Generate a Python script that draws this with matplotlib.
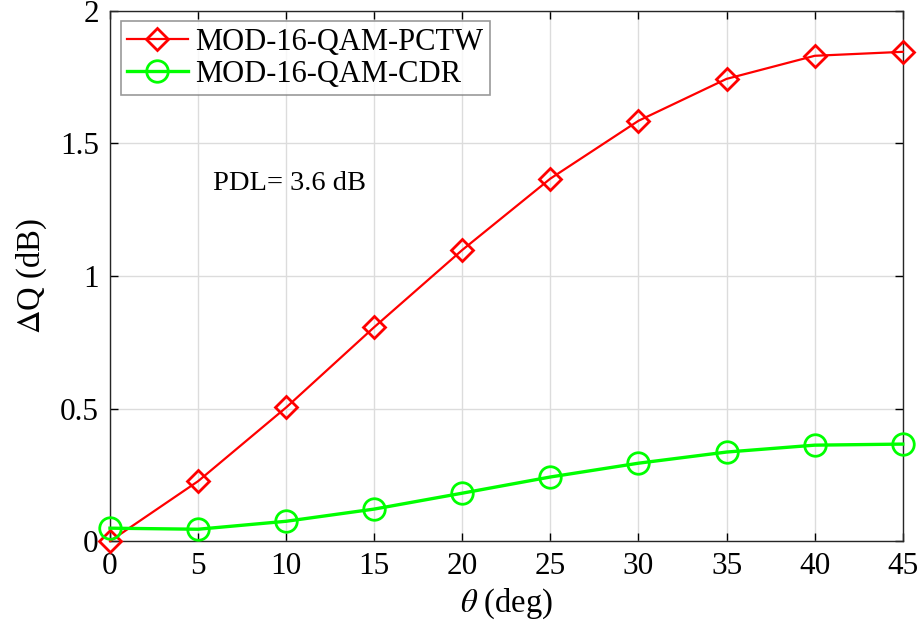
import matplotlib.pyplot as plt

plt.rcParams['font.family'] = ['Liberation Serif', 'DejaVu Serif']
plt.rcParams['mathtext.fontset'] = 'stix'

theta = [0, 5, 10, 15, 20, 25, 30, 35, 40, 45]
dq_pctw = [0.0, 0.226, 0.504, 0.807, 1.098, 1.367, 1.585, 1.743, 1.830, 1.845]
dq_cdr = [0.049, 0.045, 0.075, 0.121, 0.181, 0.242, 0.294, 0.336, 0.362, 0.366]

fig = plt.figure(figsize=(9.24, 6.3), dpi=100)
ax = fig.add_axes([0.119, 0.141, 0.858, 0.842])

ax.plot(theta, dq_pctw, color='#ff0000', lw=1.6, marker='D', ms=11.5,
        mfc='none', mew=2, label='MOD-16-QAM-PCTW', clip_on=False, zorder=3)
ax.plot(theta, dq_cdr, color='#00ff00', lw=2.4, marker='o', ms=15.5,
        mfc='none', mew=2, label='MOD-16-QAM-CDR', clip_on=False, zorder=3)

ax.set_xlim(0, 45)
ax.set_ylim(0, 2)
ax.set_xticks(theta)
ax.set_yticks([0, 0.5, 1, 1.5, 2])
ax.set_yticklabels(['0', '0.5', '1', '1.5', '2'])
ax.grid(True, color='#dcdcdc', lw=1)
ax.set_axisbelow(True)
ax.tick_params(direction='in', top=True, right=True, labelsize=22.5,
               length=6, width=1, pad=8)
for s in ax.spines.values():
    s.set_color('#262626')
    s.set_linewidth(1)

ax.set_xlabel(r'$\theta$ (deg)', fontsize=23.5, labelpad=4)
ax.set_ylabel(r'$\Delta$Q (dB)', fontsize=23.5, labelpad=8)

ax.text(5.85, 1.35, 'PDL= 3.6 dB', fontsize=20.5, va='center')

leg = ax.legend(loc='upper left', fontsize=22, frameon=True, fancybox=False,
                borderpad=0.2, handlelength=2.0, handletextpad=0.25,
                labelspacing=0.1, borderaxespad=0.35)
leg.get_frame().set_edgecolor('#808080')
leg.get_frame().set_linewidth(1.2)

fig.savefig('out.png', dpi=100)
